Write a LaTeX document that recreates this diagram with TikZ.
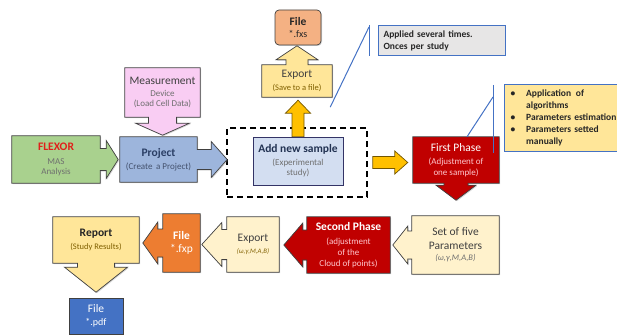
\documentclass[tikz,border=0pt]{standalone}
\usepackage{fontspec}
\setmainfont{Carlito}
\usetikzlibrary{calc}
\usetikzlibrary{backgrounds}
\usetikzlibrary{shadows}
\definecolor{flexgreen}{HTML}{A9D18E}
\definecolor{flexred}{HTML}{E0201B}
\definecolor{projblue}{HTML}{9DB5DC}
\definecolor{measpink}{HTML}{F9CDF3}
\definecolor{sampleblue}{HTML}{D3DEF1}
\definecolor{lightgold}{HTML}{FFE699}
\definecolor{cream}{HTML}{FFF2CC}
\definecolor{salmon}{HTML}{F4B183}
\definecolor{darkred}{HTML}{C00000}
\definecolor{fxporange}{HTML}{ED7D31}
\definecolor{pdfblue}{HTML}{4472C4}
\definecolor{amber}{HTML}{FFC000}
\definecolor{notegray}{HTML}{E7E6E6}
\definecolor{noteblue}{HTML}{4472C4}
\definecolor{edge}{HTML}{404040}
\definecolor{subgray}{HTML}{6F6F6F}
\definecolor{navy}{HTML}{2B3F66}
\definecolor{brownsub}{HTML}{806000}
\definecolor{pinksub}{HTML}{FFC7CE}
\newcommand{\ttl}[1]{{\fontsize{11.5}{13}\selectfont #1}}
\newcommand{\arrowpart}[6]{%
  -- ([shift={(#1)},rotate=#2]0,-#3) -- ([shift={(#1)},rotate=#2]#5,-#3)
  -- ([shift={(#1)},rotate=#2]#5,-#4) -- ([shift={(#1)},rotate=#2]#6,0)
  -- ([shift={(#1)},rotate=#2]#5,#4) -- ([shift={(#1)},rotate=#2]#5,#3)
  -- ([shift={(#1)},rotate=#2]0,#3)}
\newcommand{\rcall}[6]{\path[#2] (#1.north east) \arrowpart{#1.east}{0}{#3}{#4}{#5}{#6} -- (#1.south east) -- (#1.south west) -- (#1.north west) -- cycle;}
\newcommand{\dcall}[6]{\path[#2] (#1.south east) \arrowpart{#1.south}{-90}{#3}{#4}{#5}{#6} -- (#1.south west) -- (#1.north west) -- (#1.north east) -- cycle;}
\newcommand{\lcall}[6]{\path[#2] (#1.south west) \arrowpart{#1.west}{180}{#3}{#4}{#5}{#6} -- (#1.north west) -- (#1.north east) -- (#1.south east) -- cycle;}
\newcommand{\ucall}[6]{\path[#2] (#1.north west) \arrowpart{#1.north}{90}{#3}{#4}{#5}{#6} -- (#1.north east) -- (#1.south east) -- (#1.south west) -- cycle;}
\newcommand{\blockarrow}[5]{%
  \coordinate (neck) at ($(#2)!#5!(#1)$);
  \path[yblock] ($(#1)!#3!90:(#2)$) -- ($(neck)!#3!-90:(#1)$) -- ($(neck)!#4!-90:(#1)$) -- (#2)
    -- ($(neck)!#4!90:(#1)$) -- ($(neck)!#3!90:(#1)$) -- ($(#1)!#3!-90:(#2)$) -- cycle;}

\begin{document}
\begin{tikzpicture}[x=1pt,y=-1pt,
        every node/.style={font=\fontsize{9}{10.5}\selectfont,align=center,inner sep=0pt},
        panel/.style={draw=edge,line width=0.7pt,
                      drop shadow={shadow xshift=1pt,shadow yshift=-1pt,opacity=0.3}},
        yblock/.style={fill=amber,draw=amber!45!black,line width=0.7pt},
        dashframe/.style={draw=black,line width=1.5pt,dash pattern=on 6pt off 4pt},
        notebox/.style={draw=noteblue,line width=1pt,anchor=north west,align=left,
                        inner xsep=5pt,font=\fontsize{9.5}{12}\selectfont\bfseries,text=black!85},
        notewire/.style={draw=noteblue,line width=1pt}
      ]
      \useasboundingbox (0,0) rectangle (617,334);
      % text of the boxes
      \node (flexor) [minimum width=88pt,minimum height=47pt,text=subgray] at (56,159.5)
        {\ttl{\bfseries\color{flexred}FLEXOR}\\[3pt]MAS\\Analysis};
      \node (project) [minimum width=77pt,minimum height=45pt,text=navy!70!gray] at (158.5,159.5)
        {\ttl{\bfseries\color{navy}Project}\\[2pt](Create\, a Project)};
      \node (measure) [minimum width=75pt,minimum height=49pt,text=subgray] at (162.5,92.5)
        {\ttl{\color{edge}Measurement}\\[1pt]Device\\(Load Cell Data)};
      \node (addsample) [panel,fill=sampleblue,draw=edge!80!blue,minimum width=90pt,minimum height=48pt,text=subgray] at (298,161)
        {\ttl{\bfseries\color{navy!80!black}Add new sample}\\[2pt](Experimental\\study)};
      \node (exportfxs) [minimum width=70pt,minimum height=32pt,text=brownsub] at (297,81)
        {\ttl{\color{edge}Export}\\[2pt]{\fontsize{8.5}{10}\selectfont(Save to a file)}};
      \node (filefxs) [panel,fill=salmon,rounded corners=4pt,minimum width=46pt,minimum height=35pt,text=black!85] at (298,27.5)
        {\ttl{\bfseries File}\\[2pt]{\fontsize{10}{11}\selectfont*.fxs}};
      \node (firstphase) [minimum width=86pt,minimum height=46pt,text=pinksub] at (456,160)
        {\ttl{\color{white}First Phase}\\[3pt](Adjustment of\\one sample)};
      \node (params) [minimum width=87pt,minimum height=58pt,text=edge] at (455.5,245)
        {\ttl{Set of five}\\[3pt]\ttl{Parameters}\\[1pt]{\itshape\fontsize{8.5}{10}\selectfont\color{subgray}(ω,γ,M,A,B)}};
      \node (secondphase) [minimum width=83pt,minimum height=56pt,text=pinksub] at (348.5,245)
        {\ttl{\bfseries\color{white}Second Phase}\\[3pt](adjustment\\[1pt]of the\\Cloud of points)};
      \node (exportfxp) [minimum width=52pt,minimum height=55pt,text=brownsub] at (253,244.5)
        {\ttl{\color{edge}Export}\\[2pt]{\itshape\fontsize{6.8}{8}\selectfont(ω,γ,M,A,B)}};
      \node (filefxp) [minimum width=37pt,minimum height=58pt,text=white] at (181.5,243)
        {\ttl{\bfseries File}\\[3pt]\ttl{*.fxp}};
      \node (report) [minimum width=86pt,minimum height=46pt,text=brownsub] at (96,240)
        {\ttl{\bfseries\color{black!85}Report}\\[2pt]{\fontsize{8.5}{10}\selectfont(Study Results)}};
      \node (filepdf) [panel,fill=pdfblue,minimum width=54pt,minimum height=36pt,text=white] at (96,316)
        {\ttl{File}\\[2pt]{\fontsize{10}{11}\selectfont*.pdf}};
      % shapes behind the text
      \begin{pgfonlayer}{background}
        \node (study) [dashframe,minimum width=140pt,minimum height=69pt] at (297,162.5) {};
        \rcall{flexor}{panel,fill=flexgreen}{11}{19}{6}{18}
        \rcall{project}{panel,fill=projblue}{10}{18}{14}{30}
        \dcall{measure}{panel,fill=measpink}{14}{27}{6}{18}
        \ucall{exportfxs}{panel,fill=lightgold}{11}{21}{5}{19}
        \dcall{firstphase}{panel,fill=darkred}{12}{20}{2}{17}
        \lcall{params}{panel,fill=cream}{14}{19}{4}{19}
        \lcall{secondphase}{panel,fill=darkred}{15}{22}{4}{23}
        \lcall{exportfxp}{panel,fill=cream}{15}{22}{5}{25}
        \lcall{filefxp}{panel,fill=fxporange}{14}{21}{5}{20}
        \dcall{report}{panel,fill=lightgold}{18.5}{31.5}{4}{29}
        \coordinate (uptip) at ($(addsample.north |- exportfxs.south)+(0,3)$);
        \blockarrow{addsample.north}{uptip}{6pt}{12.5pt}{13pt}
        \coordinate (rtail) at ($(study.east)+(5,0)$);
        \coordinate (rtip) at ($(study.east -| firstphase.west)+(-5,0)$);
        \blockarrow{rtail}{rtip}{6pt}{11.5pt}{13pt}
      \end{pgfonlayer}
      % notes
      \node (note1) [notebox,fill=notegray,minimum width=127pt,minimum height=30pt,text width=117pt] at (378,25)
        {Applied several times.\\Onces per study};
      \node (note2) [notebox,fill=lightgold,inner xsep=6pt,minimum width=121pt,minimum height=67pt,text width=109pt] at (504,84)
        {\begin{tabular}{@{}l@{\hskip 11pt}l@{}}
          \textbullet & Application\, of\\ & algorithms\\
          \textbullet & Parameters estimation\\
          \textbullet & Parameters setted\\ & manually
        \end{tabular}};
      \coordinate (bar1top) at ($(note1.north west)+(-9,0)$);
      \coordinate (bar1bot) at ($(note1.south west)+(-9,0)$);
      \coordinate (bend1) at ($(bar1top)+(0,2)$);
      \coordinate (ptr1) at ($(exportfxs.south east)+(-2,10)$);
      \draw[notewire] (bar1top) -- (bar1bot);
      \draw[notewire] (bend1) -- (ptr1);
      \coordinate (bar2top) at ($(note2.north west)+(-11,1)$);
      \coordinate (bar2bot) at ($(note2.south west)+(-11,1)$);
      \coordinate (bend2) at ($(note2.north west)+(-11,13)$);
      \coordinate (ptr2) at ($(firstphase.north)+(11,0)$);
      \draw[notewire] (bar2top) -- (bar2bot);
      \draw[notewire] (bend2) -- (ptr2);
    \end{tikzpicture}
\end{document}
